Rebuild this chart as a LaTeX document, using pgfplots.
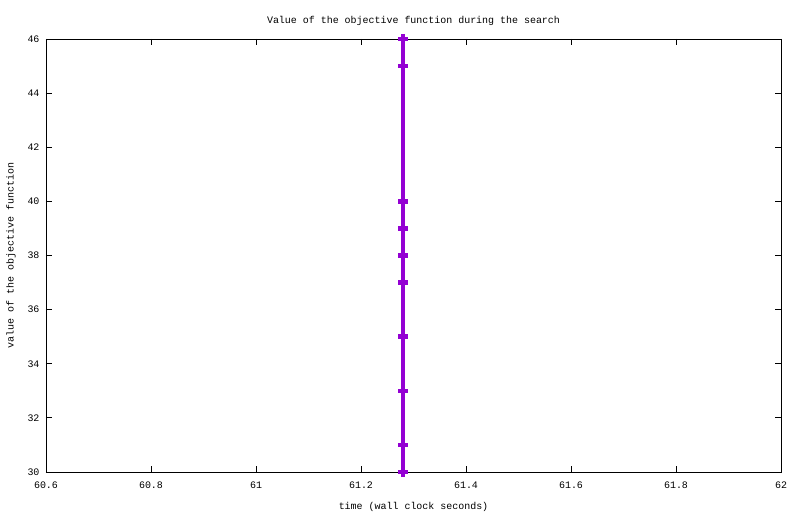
\documentclass[border=0pt]{standalone}
\usepackage{pgfplots}
\pgfplotsset{compat=1.18}
\usepackage{fontspec}
\setmainfont{Liberation Mono}
\definecolor{gp}{RGB}{148,0,211}
\begin{document}
\fontsize{10}{12}\selectfont
\begin{tikzpicture}
\useasboundingbox (-46bp,-42bp) rectangle (754bp,472bp);
\begin{axis}[
  scale only axis, width=735bp, height=433bp,
  xmin=60.6, xmax=62, ymin=30, ymax=46,
  xtick={60.6,60.8,61,61.2,61.4,61.6,61.8,62},
  ytick={30,32,...,46},
  tick align=inside, major tick length=6bp,
  tick style={black, line width=0.8bp},
  axis line style={black, line width=0.8bp},
  tick label style={font=\fontsize{10}{12}\selectfont},
  label style={font=\fontsize{10}{12}\selectfont},
  title style={font=\fontsize{10}{12}\selectfont, yshift=4bp},
  xticklabel style={yshift=-6bp},
  yticklabel style={xshift=-3bp},
  /pgf/number format/assume math mode=true,
  /pgf/number format/fixed,
  title={Value of the objective function during the search},
  xlabel={time (wall clock seconds)},
  ylabel={value of the objective function},
  xlabel style={yshift=-7bp},
  ylabel style={yshift=5bp},
  clip=false,
]
\addplot[color=gp, line width=4bp, mark=+, mark size=5bp, mark options={line width=4.5bp}] coordinates {
(61.28,30) (61.28,31) (61.28,33) (61.28,35) (61.28,37) (61.28,38) (61.28,39) (61.28,40) (61.28,45) (61.28,46)
};
\end{axis}
\end{tikzpicture}
\end{document}
